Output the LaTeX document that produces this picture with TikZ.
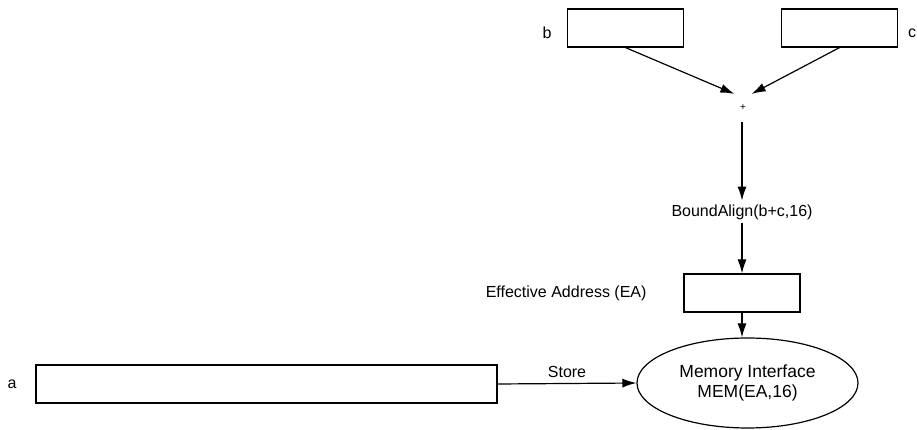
\documentclass[tikz,border=0pt]{standalone}
\usepackage{fontspec}
\setmainfont{Liberation Sans}
\usepackage{tikz}
\usetikzlibrary{arrows.meta,positioning,shapes.geometric}

\begin{document}
\begin{tikzpicture}[x=1pt, y=1pt, line width=1.2pt,
  every node/.style={font=\fontsize{16}{19}\selectfont},
  reg/.style={draw,rectangle,minimum width=116pt,minimum height=38pt,inner sep=0pt},
  flow/.style={-{Latex[length=14pt,width=9pt]}}]
  \useasboundingbox (0,0) rectangle (917,430);

  % operand registers
  \node[reg] (bReg) at (625.5,402) {};
  \node[reg] (cReg) at (839.5,402) {};
  \node (bLbl) at (547,397) {b};
  \node (cLbl) at (912,397) {c};

  \node[font=\fontsize{10}{12}\selectfont,inner sep=0pt,minimum width=16pt,
    minimum height=27pt] (plus) at (743,322) {+};
  \draw[flow](bReg.south)--(plus.north west);
  \draw[flow](cReg.south)--(plus.north east);

  \node (align) at (742,218) {BoundAlign(b+c,16)};
  \draw[flow](plus.south -| align)--(align);

  \node[reg] (eaReg) at (742,137) {};
  \node[left=33pt of eaReg] (eaLbl) {Effective Address (EA)};
  \draw[flow](align)--(eaReg);

  \node[draw,ellipse,minimum width=221pt,minimum height=90pt,inner sep=0pt,
    align=center,font=\fontsize{17.5}{20}\selectfont] (mem) at (747.5,47)
    {Memory Interface\\MEM(EA,16)};
  \draw[flow](eaReg.south)--(eaReg.south |- mem.north);

  % stored value
  \node[reg,minimum width=461pt] (aReg) at (266.5,46) {};
  \node (aLbl) at (12,46) {a};
  \draw[flow](aReg.east)--(mem.west) node[midway,above=2pt] {Store};
\end{tikzpicture}
\end{document}
